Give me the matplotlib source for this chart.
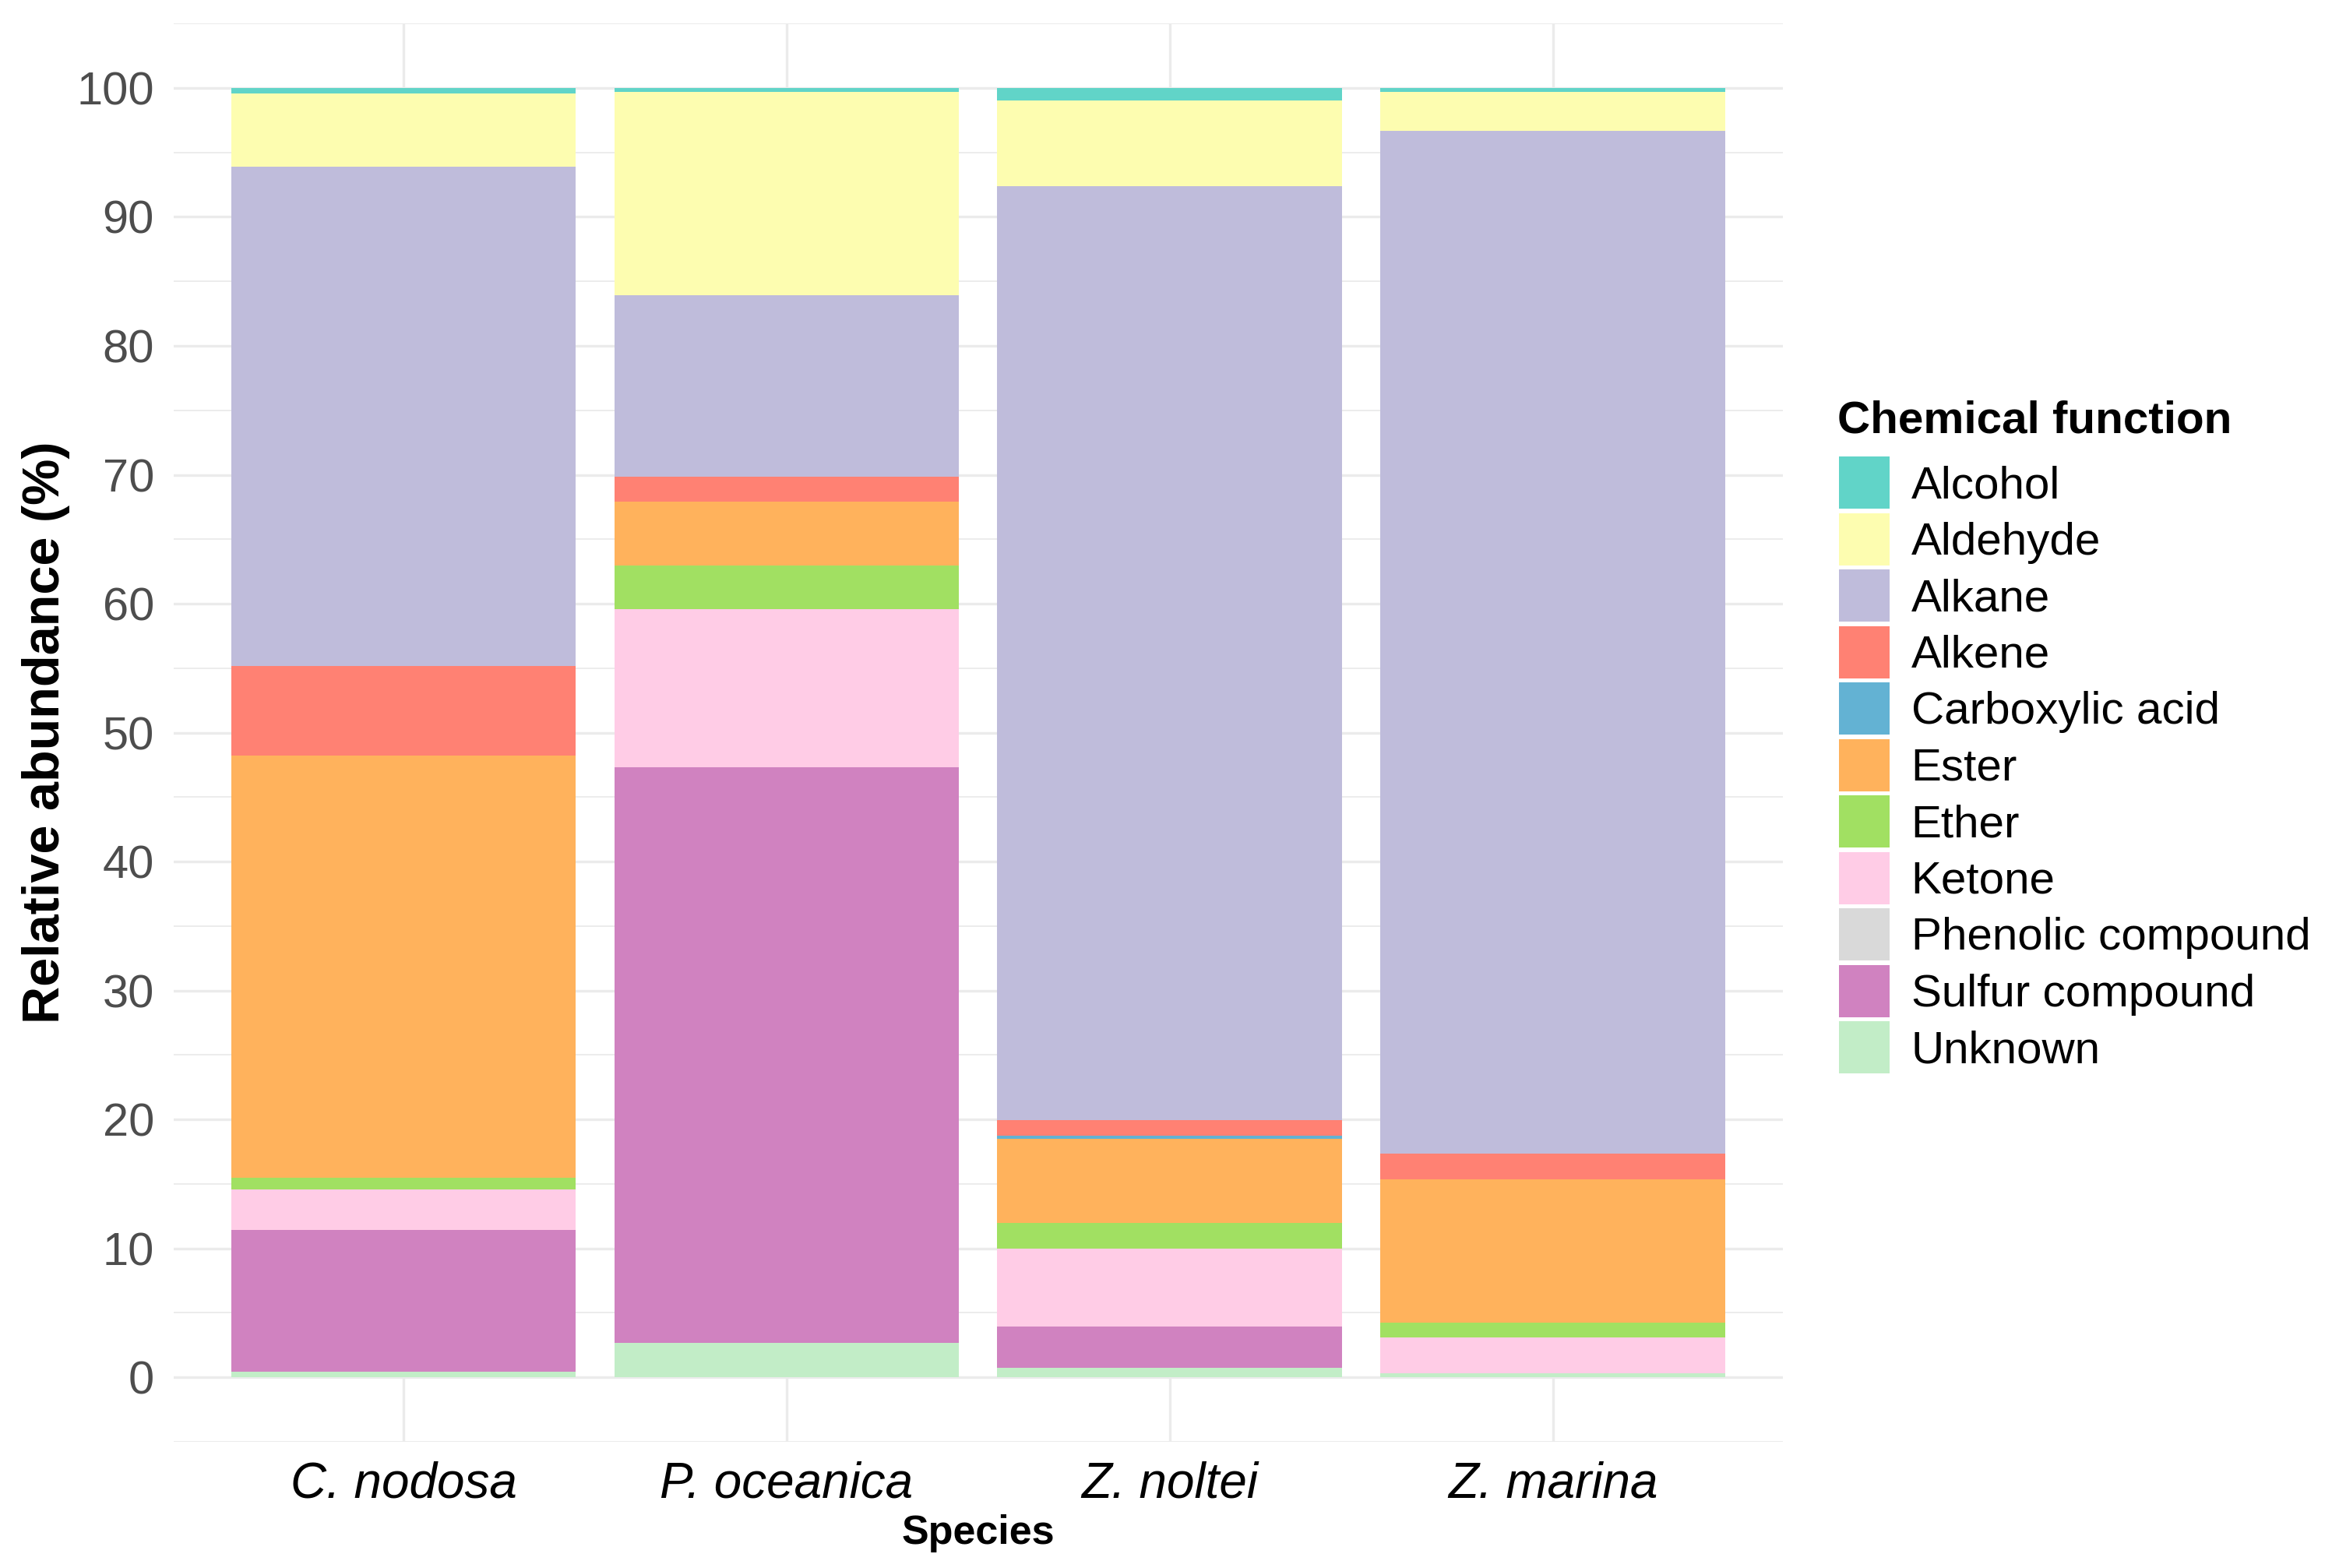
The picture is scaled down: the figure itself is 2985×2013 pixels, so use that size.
import matplotlib
matplotlib.use('Agg')
import matplotlib.pyplot as plt
from matplotlib.patches import Patch

plt.rcParams['font.family'] = ['Liberation Sans', 'DejaVu Sans']

# data (stacked segments in %, bottom to top)
species = ['C. nodosa', 'P. oceanica', 'Z. noltei', 'Z. marina']
functions = ['Alcohol', 'Aldehyde', 'Alkane', 'Alkene', 'Carboxylic acid', 'Ester',
             'Ether', 'Ketone', 'Phenolic compound', 'Sulfur compound', 'Unknown']
colors = ['#61D4C8', '#FDFDB0', '#BFBCDB', '#FF8173', '#63B2D3', '#FFB25C',
          '#A1E062', '#FFCCE6', '#D9D9D9', '#D082C0', '#C2EDC7']

unknown = [0.44, 2.67, 0.72, 0.34]
sulfur = [10.96, 44.63, 3.24, 0.0]
phenolic = [0.0, 0.0, 0.0, 0.0]
ketone = [3.2, 12.26, 6.02, 2.75]
ether = [0.9, 3.41, 1.97, 1.17]
ester = [32.7, 4.96, 6.52, 11.1]
carboxylic = [0.0, 0.0, 0.3, 0.0]
alkene = [6.95, 1.93, 1.15, 2.01]
alkane = [38.75, 14.09, 72.48, 79.33]
aldehyde = [5.66, 15.77, 6.66, 3.0]
alcohol = [0.44, 0.28, 0.94, 0.3]

values = {'Alcohol': alcohol, 'Aldehyde': aldehyde, 'Alkane': alkane, 'Alkene': alkene,
          'Carboxylic acid': carboxylic, 'Ester': ester, 'Ether': ether, 'Ketone': ketone,
          'Phenolic compound': phenolic, 'Sulfur compound': sulfur, 'Unknown': unknown}
palette = dict(zip(functions, colors))

fig = plt.figure(figsize=(2985 / 300, 2013 / 300), dpi=300, facecolor='white')
ax = fig.add_axes([0.0747, 0.0805, 0.692, 0.9045])

x = list(range(1, len(species) + 1))
bottom = [0.0] * len(species)
# ggplot stacks the first level on top, so draw from the last level up
for f in reversed(functions):
    v = values[f]
    ax.bar(x, v, width=0.9, bottom=bottom, color=palette[f], linewidth=0, zorder=2)
    bottom = [b + h for b, h in zip(bottom, v)]

# Decorations
ax.set_xlim(0.4, 4.6)
ax.set_ylim(-5, 105)
ax.set_yticks(range(0, 101, 10))
ax.set_yticks(range(-5, 106, 10), minor=True)
ax.set_xticks(x)
ax.set_xticklabels(species, fontsize=15.3, style='italic', color='black')
ax.tick_params(axis='y', which='major', labelsize=14.3, labelcolor='#4D4D4D', length=0, pad=6)
ax.tick_params(axis='y', which='minor', length=0)
ax.tick_params(axis='x', length=0, pad=6)
ax.grid(which='major', axis='both', color='#EBEBEB', linewidth=0.8, zorder=0)
ax.grid(which='minor', axis='y', color='#EBEBEB', linewidth=0.45, zorder=0)
ax.set_axisbelow(True)
for s in ax.spines.values():
    s.set_visible(False)

ax.set_ylabel('Relative abundance (%)', fontsize=16, fontweight='bold', labelpad=2)
ax.set_xlabel('Species', fontsize=12.5, fontweight='bold', labelpad=2)

# legend, title placed on its own
fig.text(2359 / 2985, 1 - 541 / 2013, 'Chemical function', fontsize=14,
         fontweight='bold', ha='left', va='center')
handles = [Patch(facecolor=palette[f], edgecolor='none') for f in functions]
fig.legend(handles, functions, loc='upper left', bbox_to_anchor=(2361 / 2985, 1 - 586 / 2013),
           frameon=False, fontsize=14,
           handlelength=1.11, handleheight=1.4, labelspacing=0.088,
           handletextpad=0.48, borderpad=0, borderaxespad=0)

fig.savefig('out.png', dpi=300, facecolor='white')
